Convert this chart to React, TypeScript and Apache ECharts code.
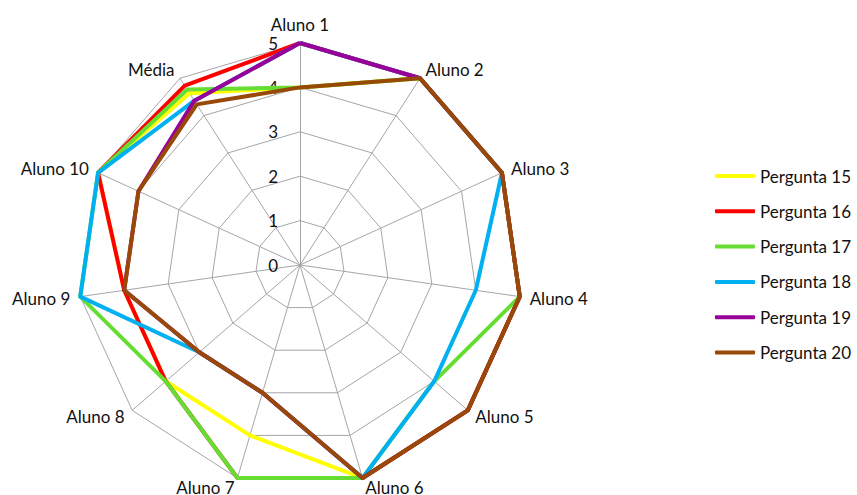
import React, { useEffect, useRef } from "react";
import * as echarts from "echarts";

// Axes, clockwise from the top
const alunos = [
  "Aluno 1", "Aluno 2", "Aluno 3", "Aluno 4", "Aluno 5",
  "Aluno 6", "Aluno 7", "Aluno 8", "Aluno 9", "Aluno 10", "Média",
];

const seriesNames = [
  "Pergunta 15", "Pergunta 16", "Pergunta 17",
  "Pergunta 18", "Pergunta 19", "Pergunta 20",
];

// Scores per student (last value is the average)
const pergunta15 = [4, 5, 5, 5, 5, 5, 4, 4, 4, 5, 4.6];
const pergunta16 = [5, 5, 5, 5, 5, 5, 5, 4, 4, 5, 4.8];
const pergunta17 = [4, 5, 5, 5, 4, 5, 5, 4, 5, 5, 4.7];
const pergunta18 = [5, 5, 5, 4, 4, 5, 3, 3, 5, 5, 4.4];
const pergunta19 = [5, 5, 5, 5, 5, 5, 3, 3, 4, 4, 4.4];
const pergunta20 = [4, 5, 5, 5, 5, 5, 3, 3, 4, 4, 4.3];

const seriesValues = [pergunta15, pergunta16, pergunta17, pergunta18, pergunta19, pergunta20];
const colors = ["#FFFF00", "#FF0000", "#66DD33", "#00B0F0", "#990099", "#984807"];

const FONT = "Lato, 'Noto Sans', sans-serif";

// ECharts lays radar indicators counter-clockwise; reverse all but the first
const order = [0, ...alunos.slice(1).map((_, i) => alunos.length - 1 - i)];

export default function App() {
  const ref = useRef<HTMLDivElement>(null);

  useEffect(() => {
    if (!ref.current) return;
    const chart = echarts.init(ref.current, undefined, { renderer: "svg" });

    const indicator = order.map((idx, k) => ({
      name: alunos[idx],
      min: 0,
      max: 5,
      ...(k === 0
        ? {
            axisLabel: {
              show: true,
              color: "#111",
              fontSize: 17,
              fontFamily: FONT,
              margin: 22,
            },
          }
        : {}),
    }));

    chart.setOption({
      animation: false,
      color: colors,
      legend: {
        orient: "vertical",
        left: 710,
        top: 161,
        icon: "roundRect",
        itemWidth: 40,
        itemHeight: 4,
        itemGap: 15.3,
        textStyle: { color: "#111", fontSize: 17, fontFamily: FONT, lineHeight: 20 },
        data: seriesNames,
      },
      radar: {
        center: [300, 265],
        radius: 222,
        startAngle: 90,
        splitNumber: 5,
        shape: "polygon",
        nameGap: 10,
        axisName: { color: "#111", fontSize: 17, fontFamily: FONT },
        axisLine: { lineStyle: { color: "#a6a6a6", width: 1 } },
        splitLine: { lineStyle: { color: "#a6a6a6", width: 1 } },
        splitArea: { show: false },
        axisLabel: { show: false },
        indicator,
      },
      series: seriesNames.map((name, i) => ({
        type: "radar",
        name,
        symbol: "none",
        lineStyle: { width: 4, color: colors[i] },
        itemStyle: { color: colors[i] },
        data: [{ name, value: order.map((idx) => seriesValues[i][idx]) }],
      })),
    });

    return () => chart.dispose();
  }, []);

  return (
    <div
      ref={ref}
      style={{ position: "fixed", left: 0, top: 0, width: 857, height: 495, background: "#fff" }}
    />
  );
}
